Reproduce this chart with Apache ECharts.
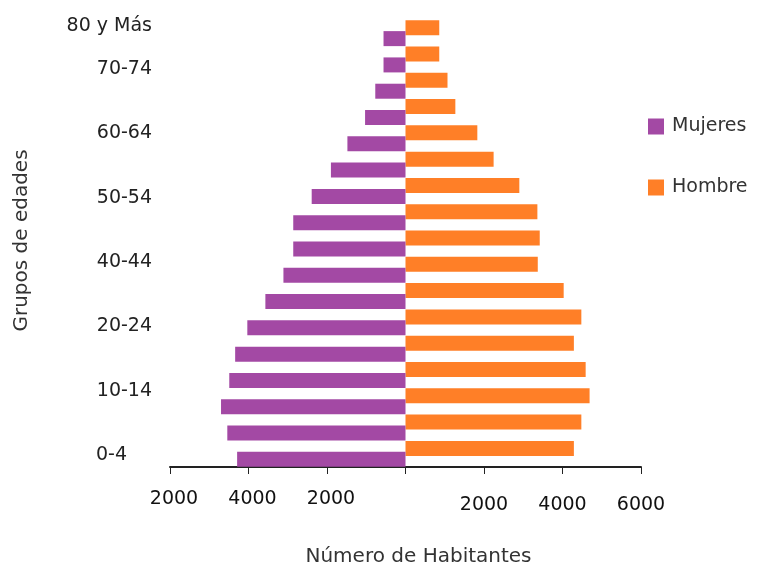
<!DOCTYPE html>
<html><head><meta charset="utf-8">
<script src="https://cdn.jsdelivr.net/npm/echarts@6/dist/echarts.min.js"></script>
<style>html,body{margin:0;padding:0;background:#fff}#c{width:760px;height:566px}</style>
</head><body><div id="c"></div>
<script>
const categories = ['0-4','5-9','10-14','15-19','20-24','25-29','30-34','35-39','40-44','45-49','50-54','55-59','60-64','65-69','70-74','75-79','80 y Más'];
const mujeres = [4290, 4540, 4700, 4490, 4340, 4030, 3570, 3110, 2860, 2860, 2390, 1900, 1480, 1030, 770, 560, 560];
const hombre  = [4290, 4480, 4690, 4590, 4290, 4480, 4030, 3370, 3420, 3360, 2900, 2245, 1830, 1270, 1070, 860, 860];
const xTickLabels = ['2000','4000','2000','','2000','4000','6000'];
const yTickLabels = ['0-4','','','10-14','','','20-24','','','40-44','','','50-54','','','60-64','','','70-74','','80 y Más'];

const FONT = 'DejaVu Sans';
const chart = echarts.init(document.getElementById('c'), null, {renderer:'canvas'});
chart.setOption({
  animation: false,
  backgroundColor: '#fff',
  textStyle: {fontFamily: FONT},
  legend: {
    data: ['Mujeres','Hombre'], orient: 'vertical', left: 643, top: 112,
    itemWidth: 16, itemHeight: 16, itemGap: 42, icon: 'rect',
    textStyle: {fontSize: 19, color: '#333', fontFamily: FONT, padding: [0,0,0,3]}
  },
  grid: [
    {left: 170, right: 119, top: 20, bottom: 99, outerBoundsMode: 'none', containLabel: false},
    {left: 160, width: 10, top: 26, height: 429, outerBoundsMode: 'none', containLabel: false}
  ],
  xAxis: [
    {gridIndex: 0, type: 'value', min: -6000, max: 6000, interval: 2000,
     name: 'Número de Habitantes', nameLocation: 'middle', nameGap: 80,
     nameTextStyle: {fontSize: 20, color: '#333', fontFamily: FONT, padding: [0,0,0,26]},
     axisLine: {show: true, lineStyle: {color: '#222', width: 2}},
     axisTick: {show: true, length: 7, lineStyle: {color: '#222', width: 1}},
     splitLine: {show: false},
     axisLabel: {
       margin: 20,
       formatter: function (v) {
         const t = xTickLabels[Math.round((v + 6000) / 2000)];
         if (!t) return '';
         return v < 0 ? '{l|' + t + '}' : '{r|' + t + '}';
       },
       rich: {
         l: {fontSize: 19, color: '#111', fontFamily: FONT, padding: [3,0,0,8]},
         r: {fontSize: 19, color: '#111', fontFamily: FONT, padding: [9,0,0,0]}
       }
     }},
    {gridIndex: 1, type: 'value', show: false}
  ],
  yAxis: [
    {gridIndex: 0, type: 'category', data: categories, show: false},
    {gridIndex: 1, type: 'category', data: yTickLabels, boundaryGap: false,
     name: 'Grupos de edades', nameLocation: 'middle', nameGap: 128,
     nameTextStyle: {fontSize: 20, color: '#333', fontFamily: FONT},
     axisLine: {show: false}, axisTick: {show: false}, splitLine: {show: false},
     axisLabel: {
       interval: 0, margin: 8, fontSize: 19, color: '#222', fontFamily: FONT,
       formatter: function (v) { return v === yTickLabels[0] ? '{s|' + v + '}' : v; },
       rich: {s: {width: 56, align: 'left', fontSize: 19, color: '#222', fontFamily: FONT}}
     }}
  ],
  series: [
    {name: 'Hombre', type: 'bar', xAxisIndex: 0, yAxisIndex: 0, data: hombre,
     barWidth: 15, barGap: '-27%', itemStyle: {color: '#FF7F27'}},
    {name: 'Mujeres', type: 'bar', xAxisIndex: 0, yAxisIndex: 0, data: mujeres.map(v => -v),
     barWidth: 15, barGap: '-27%', itemStyle: {color: '#A349A4'}}
  ]
});
</script>
</body></html>
